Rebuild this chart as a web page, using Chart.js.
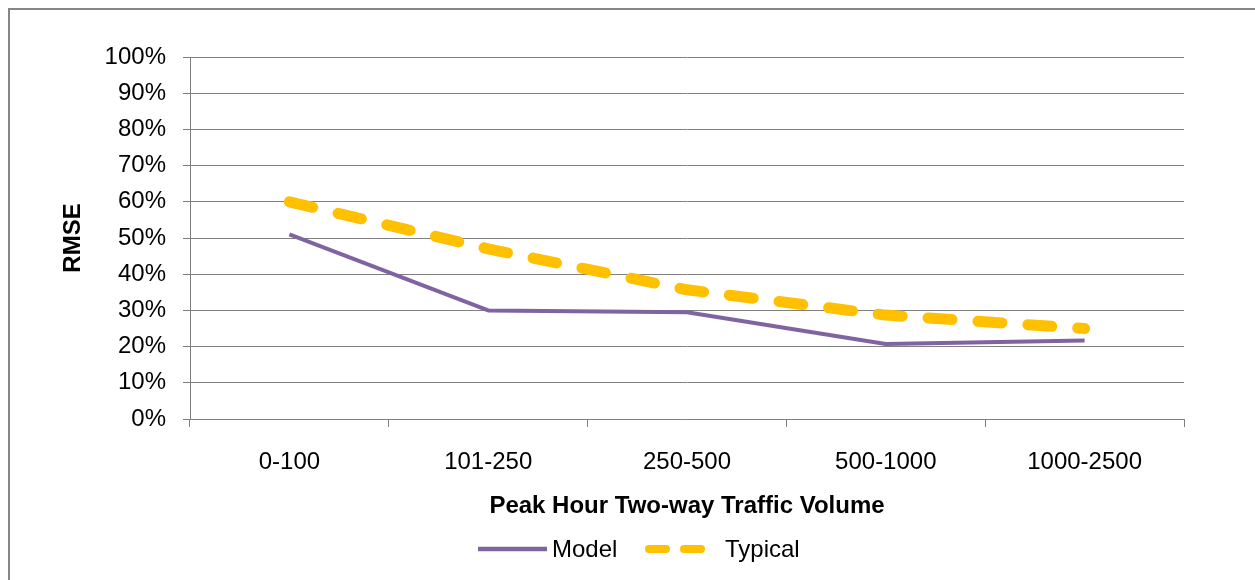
<!DOCTYPE html>
<html>
<head>
<meta charset="utf-8">
<script src="https://cdn.jsdelivr.net/npm/chart.js@4"></script>
<style>
    body { margin: 0; background: #fff; overflow: hidden; }
    #frame { position: absolute; left: 8px; top: 8px; width: 1300px; height: 620px; border: 2px solid #868686; }
    #chart { position: absolute; left: 0; top: 0; }
</style>
</head>
<body>
<div id="frame"></div>
<canvas id="chart" width="1255" height="580"></canvas>
<script>
const categories = ['0-100', '101-250', '250-500', '500-1000', '1000-2500'];
const modelValues = [51, 30, 29.5, 20.7, 21.7];
const typicalValues = [60, 47, 35.7, 28.7, 25];
const yTicks = [0, 10, 20, 30, 40, 50, 60, 70, 80, 90, 100];

const FONT = '"Liberation Sans", Arial, sans-serif';

// legend drawn by hand so the line samples look like the original
const legendPlugin = {
    id: 'lineLegend',
    afterDraw(chart) {
        const ctx = chart.ctx;
        const ds = chart.data.datasets;
        const y = 549;
        ctx.save();
        ctx.font = '24px ' + FONT;
        ctx.fillStyle = '#000';
        ctx.textBaseline = 'middle';

        ctx.strokeStyle = ds[0].borderColor;
        ctx.lineWidth = 4.5;
        ctx.lineCap = 'butt';
        ctx.beginPath();
        ctx.moveTo(478, y);
        ctx.lineTo(547, y);
        ctx.stroke();
        ctx.fillText(ds[0].label, 552, y + 1);

        ctx.strokeStyle = ds[1].borderColor;
        ctx.lineWidth = 8;
        ctx.lineCap = 'round';
        ctx.setLineDash([17, 18]);
        ctx.beginPath();
        ctx.moveTo(649, y);
        ctx.lineTo(702, y);
        ctx.stroke();
        ctx.setLineDash([]);
        ctx.fillText(ds[1].label, 725, y + 1);
        ctx.restore();
    }
};

document.addEventListener('DOMContentLoaded', function() {
    const ctx = document.getElementById('chart').getContext('2d');
    new Chart(ctx, {
        type: 'line',
        data: {
            labels: categories,
            datasets: [{
                label: 'Model',
                data: modelValues,
                borderColor: '#8064A2',
                borderWidth: 4,
                pointRadius: 0,
                tension: 0,
                borderJoinStyle: 'round'
            }, {
                label: 'Typical',
                data: typicalValues,
                borderColor: '#FFC000',
                borderWidth: 11,
                borderDash: [24, 26],
                borderCapStyle: 'round',
                borderJoinStyle: 'round',
                pointRadius: 0,
                tension: 0
            }]
        },
        options: {
            responsive: false,
            animation: false,
            layout: {
                padding: { left: 59, top: 57, right: 71, bottom: 59 }
            },
            plugins: {
                legend: { display: false },
                tooltip: { enabled: false }
            },
            scales: {
                x: {
                    offset: true,
                    grid: {
                        offset: true,
                        drawOnChartArea: false,
                        drawTicks: true,
                        tickLength: 8,
                        color: '#808080'
                    },
                    border: { color: '#808080' },
                    ticks: {
                        color: '#000',
                        font: { family: FONT, size: 24 },
                        padding: 21,
                        maxRotation: 0
                    },
                    title: {
                        display: true,
                        text: 'Peak Hour Two-way Traffic Volume',
                        color: '#000',
                        font: { family: FONT, size: 24, weight: 'bold' },
                        padding: 0
                    },
                    afterFit: function(scale) { scale.height = 102; }
                },
                y: {
                    min: 0,
                    max: 100,
                    afterBuildTicks: function(scale) {
                        scale.ticks = yTicks.map(v => ({ value: v }));
                    },
                    grid: {
                        color: '#808080',
                        tickLength: 7
                    },
                    border: { color: '#808080' },
                    ticks: {
                        color: '#000',
                        font: { family: FONT, size: 24 },
                        padding: 17,
                        callback: v => v + '%'
                    },
                    title: {
                        display: true,
                        text: 'RMSE',
                        color: '#000',
                        font: { family: FONT, size: 24, weight: 'bold' },
                        padding: 0
                    },
                    afterFit: function(scale) { scale.width = 131; }
                }
            }
        },
        plugins: [legendPlugin]
    });
});
</script>
</body>
</html>
